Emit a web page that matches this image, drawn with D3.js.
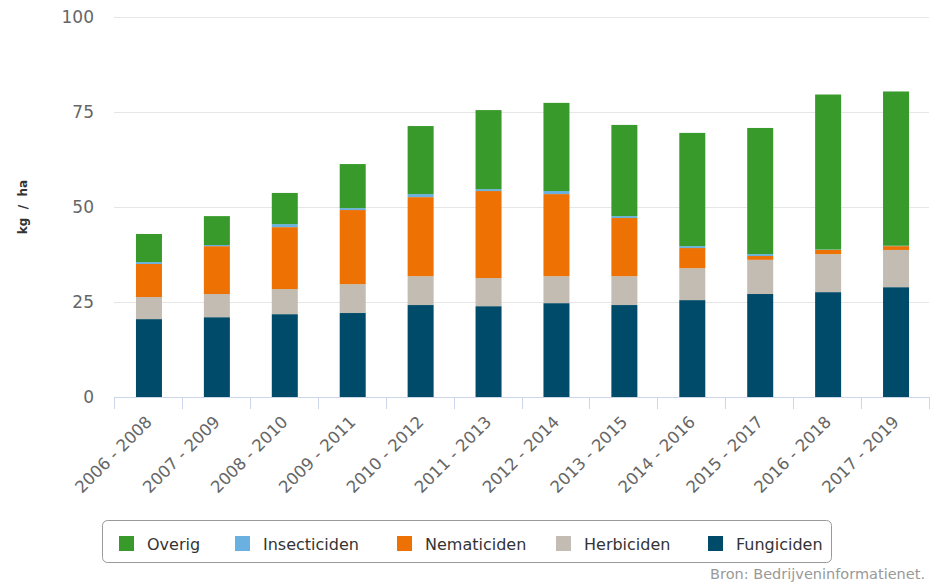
<!DOCTYPE html>
<html>
<head>
    <script src="https://cdnjs.cloudflare.com/ajax/libs/d3/7.8.5/d3.min.js"></script>
    <style>
        body { margin: 0; background: #fff; }
        text { font-family: "DejaVu Sans", Verdana, sans-serif; }
        .grid line { stroke: #e6e6e6; stroke-width: 1px; }
        .ylab { fill: #666; font-size: 17px; }
        .xlab { fill: #666; font-size: 16.5px; }
        .legend text { fill: #333; font-size: 16px; }
    </style>
</head>
<body>
    <div id="chart"></div>
    <script>
        const width = 931, height = 584;

        const periods = ["2006 - 2008", "2007 - 2009", "2008 - 2010", "2009 - 2011", "2010 - 2012", "2011 - 2013",
                         "2012 - 2014", "2013 - 2015", "2014 - 2016", "2015 - 2017", "2016 - 2018", "2017 - 2019"];
        const fungiciden   = [20.5, 21.0, 21.8, 22.1, 24.2, 23.9, 24.7, 24.2, 25.5, 27.1, 27.6, 28.9];
        const herbiciden   = [5.8, 6.1, 6.6, 7.6, 7.6, 7.4, 7.1, 7.6, 8.4, 9.0, 10.0, 9.8];
        const nematiciden  = [8.7, 12.6, 16.3, 19.5, 20.8, 22.9, 21.6, 15.3, 5.3, 1.0, 1.1, 1.0];
        const insecticiden = [0.5, 0.3, 0.8, 0.5, 0.8, 0.5, 0.8, 0.5, 0.5, 0.5, 0.1, 0.1];
        const overig       = [7.4, 7.6, 8.2, 11.6, 17.9, 20.8, 23.2, 24.0, 29.8, 33.2, 40.8, 40.6];
        const yTicks = [0, 25, 50, 75, 100];

        // stacking order bottom -> top
        const series = [
            { name: "Fungiciden", values: fungiciden, color: "#004b69" },
            { name: "Herbiciden", values: herbiciden, color: "#c3bcb2" },
            { name: "Nematiciden", values: nematiciden, color: "#ee7203" },
            { name: "Insecticiden", values: insecticiden, color: "#6ab0e0" },
            { name: "Overig", values: overig, color: "#389a2b" }
        ];

        const svg = d3.select("#chart").append("svg").attr("width", width).attr("height", height);

        const x = d3.scaleBand().domain(periods).range([114, 929]).paddingInner(0).paddingOuter(0);
        const y = d3.scaleLinear().domain([0, 100]).range([397, 17]);

        // gridlines
        svg.append("g").attr("class", "grid")
            .selectAll("line").data(yTicks.filter(d => d > 0)).enter().append("line")
            .attr("x1", 114).attr("x2", 929)
            .attr("y1", d => Math.round(y(d)) + 0.5).attr("y2", d => Math.round(y(d)) + 0.5);

        // y labels
        svg.append("g").selectAll("text").data(yTicks).enter().append("text")
            .attr("class", "ylab")
            .attr("x", 94).attr("y", d => y(d) + 6)
            .attr("text-anchor", "end")
            .text(d => d);

        svg.append("text")
            .attr("transform", `translate(27,${y(50)}) rotate(-90)`)
            .attr("text-anchor", "middle")
            .style("white-space", "pre")
            .style("font-size", "12px").style("font-weight", "bold").style("fill", "#333")
            .text("kg  /  ha");

        // stacked bars
        const rows = periods.map((p, i) => {
            const r = { period: p };
            series.forEach(s => r[s.name] = s.values[i]);
            return r;
        });
        const stack = d3.stack().keys(series.map(s => s.name))(rows);
        const barW = 26;

        svg.append("g").selectAll("g").data(stack).enter().append("g")
            .attr("fill", (d, i) => series[i].color)
            .selectAll("rect").data(d => d).enter().append("rect")
            .attr("x", d => x(d.data.period) + x.bandwidth() / 2 - barW / 2 + 1)
            .attr("width", barW)
            .attr("y", d => y(d[1]))
            .attr("height", d => y(d[0]) - y(d[1]));

        // x axis
        const xa = svg.append("g");
        xa.append("line").attr("x1", 114).attr("x2", 929).attr("y1", 397.5).attr("y2", 397.5)
            .attr("stroke", "#ccd6eb");
        const edges = periods.map(p => x(p)).concat([929]);
        xa.selectAll("line.tick").data(edges).enter().append("line")
            .attr("class", "tick")
            .attr("x1", d => Math.round(d) + 0.5).attr("x2", d => Math.round(d) + 0.5)
            .attr("y1", 397).attr("y2", 409)
            .attr("stroke", "#ccd6eb");
        xa.selectAll("text").data(periods).enter().append("text")
            .attr("class", "xlab")
            .attr("text-anchor", "end")
            .attr("transform", d => `translate(${x(d) + x.bandwidth() / 2 + 5},${423}) rotate(-45)`)
            .text(d => d);

        // legend
        const legend = svg.append("g").attr("class", "legend");
        legend.append("rect")
            .attr("x", 102.5).attr("y", 520.5).attr("width", 729).attr("height", 42)
            .attr("rx", 5).attr("fill", "none").attr("stroke", "#999");
        const legendItems = [...series].reverse();
        const legendX = [119, 235, 397, 556, 708];
        const item = legend.selectAll("g.item").data(legendItems).enter().append("g")
            .attr("class", "item")
            .attr("transform", (d, i) => `translate(${legendX[i]},536)`);
        item.append("rect").attr("width", 15).attr("height", 15).attr("fill", d => d.color);
        item.append("text").attr("x", 28).attr("y", 14).text(d => d.name);

        svg.append("text")
            .attr("x", 925).attr("y", 579)
            .attr("text-anchor", "end")
            .style("font-size", "14.5px").style("fill", "#999")
            .text("Bron: Bedrijveninformatienet.");
    </script>
</body>
</html>
